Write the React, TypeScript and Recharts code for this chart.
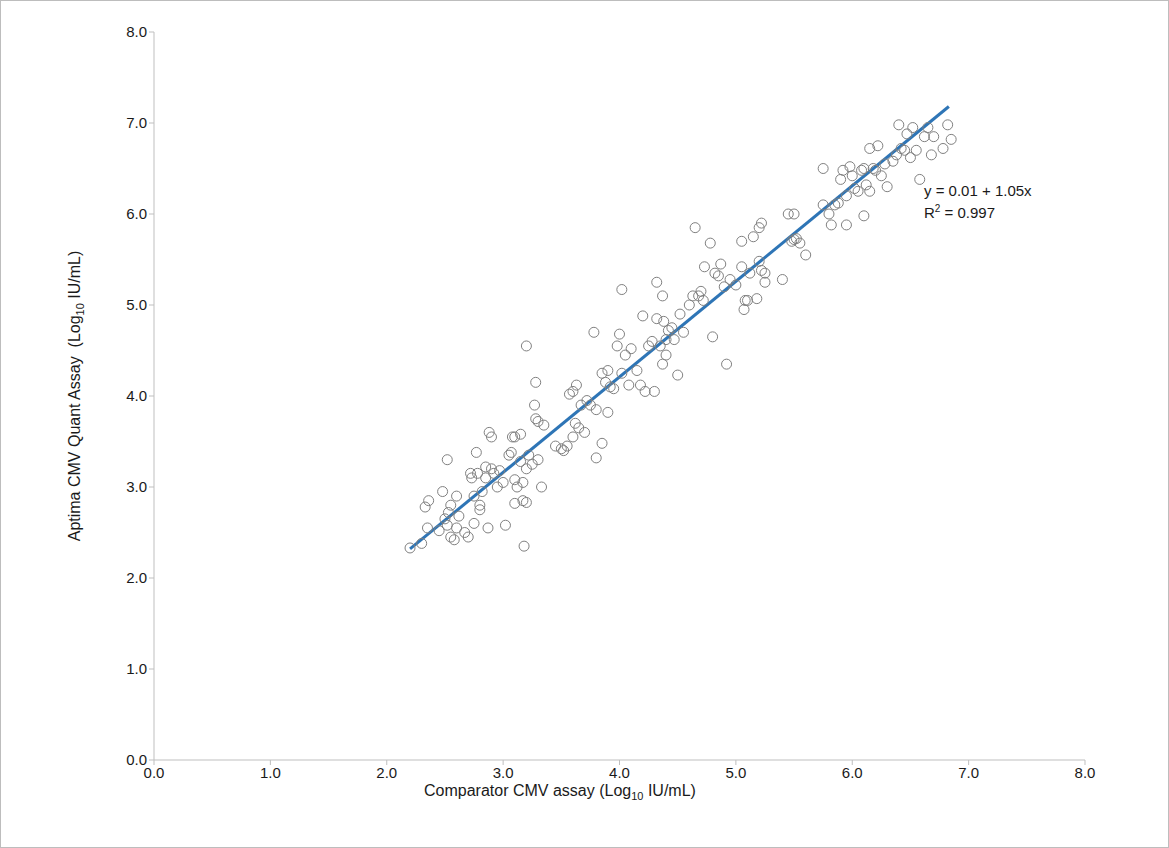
import React from "react";
import { ScatterChart, Scatter, XAxis, YAxis, ReferenceLine } from "recharts";

const xTicks = [0, 1, 2, 3, 4, 5, 6, 7, 8];
const yTicks = [0, 1, 2, 3, 4, 5, 6, 7, 8];

// comparator (x) vs Aptima (y), log10 IU/mL
const points: [number, number][] = [
  [2.2, 2.33], [2.3, 2.38], [2.33, 2.78], [2.36, 2.85], [2.35, 2.55], [2.45, 2.52], [2.48, 2.95], [2.5, 2.65],
  [2.52, 3.3], [2.52, 2.58], [2.53, 2.72], [2.55, 2.8], [2.55, 2.45], [2.58, 2.42], [2.6, 2.9], [2.6, 2.55],
  [2.62, 2.68], [2.67, 2.5], [2.7, 2.45], [2.72, 3.15], [2.73, 3.1], [2.75, 2.9], [2.75, 2.6], [2.77, 3.38],
  [2.78, 3.15], [2.8, 2.8], [2.8, 2.75], [2.82, 2.95], [2.85, 3.22], [2.85, 3.1], [2.87, 2.55], [2.88, 3.6],
  [2.9, 3.55], [2.9, 3.2], [2.92, 3.15], [2.95, 3.0], [2.97, 3.18], [3.0, 3.05], [3.02, 2.58], [3.05, 3.35],
  [3.07, 3.38], [3.08, 3.55], [3.1, 3.55], [3.1, 3.08], [3.1, 2.82], [3.12, 3.0], [3.15, 3.58], [3.15, 3.28],
  [3.17, 3.05], [3.17, 2.85], [3.18, 2.35], [3.2, 2.83], [3.2, 3.2], [3.22, 3.35], [3.25, 3.25], [3.27, 3.9],
  [3.28, 4.15], [3.28, 3.75], [3.3, 3.72], [3.3, 3.3], [3.33, 3.0], [3.35, 3.68], [3.2, 4.55],
  [3.45, 3.45], [3.5, 3.42], [3.52, 3.4], [3.55, 3.45], [3.57, 4.02], [3.6, 4.05], [3.6, 3.55], [3.62, 3.7],
  [3.63, 4.12], [3.65, 3.65], [3.67, 3.9], [3.7, 3.6], [3.72, 3.95], [3.75, 3.9], [3.78, 4.7], [3.8, 3.32],
  [3.8, 3.85], [3.85, 4.25], [3.85, 3.48], [3.88, 4.15], [3.9, 4.28], [3.9, 3.82], [3.92, 4.1], [3.95, 4.08],
  [3.98, 4.55], [4.0, 4.68], [4.02, 5.17], [4.02, 4.25], [4.05, 4.45], [4.08, 4.12], [4.1, 4.52], [4.15, 4.28],
  [4.18, 4.12], [4.2, 4.88], [4.22, 4.05], [4.25, 4.55], [4.28, 4.6], [4.3, 4.05], [4.32, 5.25], [4.32, 4.85],
  [4.35, 4.55], [4.37, 5.1], [4.37, 4.35], [4.38, 4.82], [4.4, 4.45], [4.4, 4.62], [4.42, 4.72], [4.45, 4.75],
  [4.47, 4.62], [4.5, 4.23], [4.52, 4.9], [4.55, 4.7],
  [4.6, 5.0], [4.63, 5.1], [4.65, 5.85], [4.68, 5.1], [4.7, 5.15], [4.72, 5.05], [4.73, 5.42], [4.78, 5.68],
  [4.8, 4.65], [4.82, 5.35], [4.85, 5.32], [4.87, 5.45], [4.9, 5.2], [4.92, 4.35], [4.95, 5.28], [5.0, 5.22],
  [5.05, 5.42], [5.05, 5.7], [5.07, 4.95], [5.08, 5.05], [5.1, 5.05], [5.12, 5.35], [5.15, 5.75], [5.18, 5.07],
  [5.2, 5.48], [5.2, 5.85], [5.22, 5.38], [5.22, 5.9], [5.25, 5.25], [5.25, 5.35], [5.4, 5.28], [5.45, 6.0],
  [5.5, 6.0], [5.48, 5.7], [5.5, 5.72], [5.52, 5.73], [5.55, 5.68], [5.6, 5.55],
  [5.75, 6.5], [5.75, 6.1], [5.8, 6.0], [5.82, 5.88], [5.85, 6.1], [5.88, 6.12], [5.9, 6.38], [5.92, 6.48],
  [5.95, 6.2], [5.95, 5.88], [5.98, 6.52], [6.0, 6.42], [6.02, 6.28], [6.05, 6.25], [6.08, 6.48], [6.1, 5.98],
  [6.1, 6.5], [6.12, 6.32], [6.15, 6.25], [6.15, 6.72], [6.18, 6.5], [6.2, 6.48], [6.22, 6.75], [6.25, 6.42],
  [6.28, 6.55], [6.3, 6.3], [6.35, 6.58], [6.38, 6.65], [6.4, 6.98], [6.42, 6.72], [6.45, 6.7], [6.47, 6.88],
  [6.5, 6.62], [6.52, 6.95], [6.55, 6.7], [6.58, 6.38], [6.62, 6.85], [6.65, 6.95], [6.68, 6.65], [6.7, 6.85],
  [6.78, 6.72], [6.82, 6.98], [6.85, 6.82],
];

const fitIntercept = 0.01;
const fitSlope = 1.05;
const fitRange = [2.2, 6.83];

const data = points.map(([x, y]) => ({ x, y }));
const font = "'Liberation Sans', Arial, sans-serif";

export default function App() {
  return (
    <div style={{ position: "absolute", left: 0, top: 0, width: 1169, height: 848, fontFamily: font, color: "#1a1a1a" }}>
      <div style={{ position: "absolute", left: 0, top: 0, width: 1167, height: 846, border: "1px solid #bdbdbd" }} />
      <ScatterChart width={1169} height={848} margin={{ top: 32, right: 84, bottom: 58, left: 94 }}>
        <XAxis type="number" dataKey="x" domain={[0, 8]} ticks={xTicks} height={30}
          tickFormatter={(v) => v.toFixed(1)} stroke="#bfbfbf" tickSize={5}
          tick={{ fill: "#1a1a1a", fontSize: 15, fontFamily: font }} />
        <YAxis type="number" dataKey="y" domain={[0, 8]} ticks={yTicks} width={60}
          tickFormatter={(v) => v.toFixed(1)} stroke="#bfbfbf" tickSize={5}
          tick={{ fill: "#1a1a1a", fontSize: 15, fontFamily: font }} />
        <Scatter data={data} isAnimationActive={false}
          shape={(p: any) => <circle cx={p.cx} cy={p.cy} r={5} fill="none" stroke="#808080" strokeWidth={1} />} />
        <ReferenceLine segment={[
          { x: fitRange[0], y: fitIntercept + fitSlope * fitRange[0] },
          { x: fitRange[1], y: fitIntercept + fitSlope * fitRange[1] },
        ]} stroke="#2e75b6" strokeWidth={3} ifOverflow="visible" />
      </ScatterChart>
      <div style={{ position: "absolute", left: 424, top: 782, fontSize: 16 }}>
        Comparator CMV assay (Log<sub style={{ fontSize: 11 }}>10</sub> IU/mL)
      </div>
      <div style={{ position: "absolute", left: 76, top: 396, fontSize: 16, whiteSpace: "nowrap",
        transform: "translate(-50%, -50%) rotate(-90deg)" }}>
        Aptima CMV Quant Assay&nbsp; (Log<sub style={{ fontSize: 11 }}>10</sub> IU/mL)
      </div>
      <div style={{ position: "absolute", left: 924, top: 182, fontSize: 15, lineHeight: "18px" }}>
        y = 0.01 + 1.05x<br />R<sup style={{ fontSize: 10 }}>2</sup> = 0.997
      </div>
    </div>
  );
}
